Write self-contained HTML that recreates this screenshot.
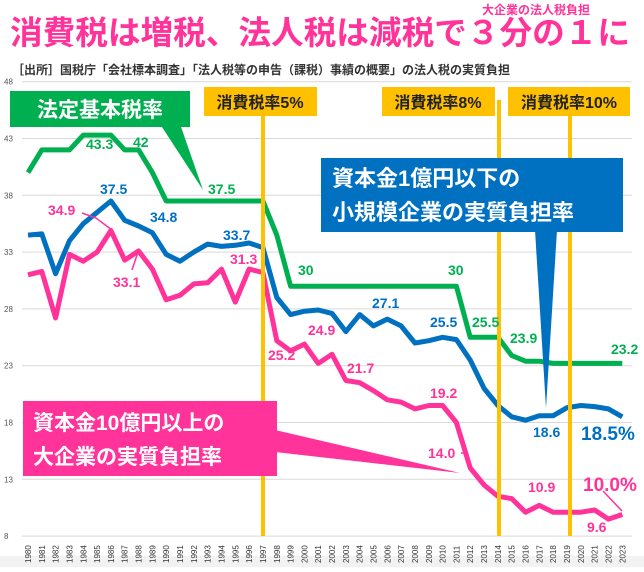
<!DOCTYPE html>
<html><head><meta charset="utf-8">
<style>
html,body{margin:0;padding:0;background:#fff;}
body{width:644px;height:567px;overflow:hidden;position:relative;font-family:"Liberation Sans","Noto Sans CJK JP",sans-serif;}
svg text{font-family:"Liberation Sans","Noto Sans CJK JP",sans-serif;}
</style></head><body>
<svg id="s" width="644" height="567" xmlns="http://www.w3.org/2000/svg">
<rect x="0" y="556" width="644" height="11" fill="#f2f2f2"/>
<text x="10" y="44" font-size="32.5" font-weight="bold" fill="#ff3399" textLength="620" lengthAdjust="spacingAndGlyphs">消費税は増税、法人税は減税で３分の１に</text>
<text x="482" y="14" font-size="12" font-weight="bold" fill="#ff3399">大企業の法人税負担</text>
<text x="12" y="74" font-size="12" font-weight="bold" fill="#333">［出所］国税庁「会社標本調査」「法人税等の申告（課税）事績の概要」の法人税の実質負担</text>
<g id="grid"></g>
<g id="lines"></g>
<rect x="261" y="100" width="4" height="436" fill="#ffc000"/>
<rect x="497" y="100" width="4" height="436" fill="#ffc000"/>
<rect x="568" y="100" width="4" height="436" fill="#ffc000"/>
<rect x="204" y="87" width="113" height="29" fill="#ffc000"/>
<text x="260" y="108" font-size="16" font-weight="bold" fill="#222" text-anchor="middle">消費税率5%</text>
<rect x="382" y="87" width="113" height="29" fill="#ffc000"/>
<text x="438" y="108" font-size="16" font-weight="bold" fill="#222" text-anchor="middle">消費税率8%</text>
<rect x="508" y="87" width="122" height="29" fill="#ffc000"/>
<text x="569" y="108" font-size="16" font-weight="bold" fill="#222" text-anchor="middle">消費税率10%</text>
<polygon points="160,124 180,124 203,190" fill="#00b050"/>
<rect x="10" y="91" width="180" height="36" fill="#00b050"/>
<text x="100" y="117" font-size="21" font-weight="bold" fill="#fff" text-anchor="middle">法定基本税率</text>
<polygon points="535,230 557,230 546,408" fill="#0070c0"/>
<rect x="321" y="158" width="302" height="74" fill="#0070c0"/>
<text x="332" y="186" font-size="22" font-weight="bold" fill="#fff">資本金1億円以下の</text>
<text x="332" y="220" font-size="22" font-weight="bold" fill="#fff">小規模企業の実質負担率</text>
<polygon points="275,430 275,452 460,473" fill="#ff3399"/>
<rect x="23" y="401" width="254" height="75" fill="#ff3399"/>
<text x="33" y="430" font-size="21" font-weight="bold" fill="#fff">資本金10億円以上の</text>
<text x="33" y="464" font-size="21" font-weight="bold" fill="#fff">大企業の実質負担率</text>
<g font-weight="bold" font-size="14">
<text x="86" y="149" fill="#00b050">43.3</text>
<text x="133" y="147" fill="#00b050">42</text>
<text x="208" y="194" fill="#00b050">37.5</text>
<text x="298" y="275" fill="#00b050">30</text>
<text x="448" y="275" fill="#00b050">30</text>
<text x="472" y="327" fill="#00b050">25.5</text>
<text x="510" y="343" fill="#00b050">23.9</text>
<text x="611" y="354" fill="#00b050">23.2</text>
<text x="100" y="194" fill="#0070c0">37.5</text>
<text x="150" y="222" fill="#0070c0">34.8</text>
<text x="223" y="240" fill="#0070c0">33.7</text>
<text x="372" y="308" fill="#0070c0">27.1</text>
<text x="430" y="327" fill="#0070c0">25.5</text>
<text x="533" y="437" fill="#0070c0">18.6</text>
<text x="581" y="440" fill="#0070c0" font-size="19">18.5%</text>
<text x="48" y="215" fill="#ff3399">34.9</text>
<text x="113" y="287" fill="#ff3399">33.1</text>
<text x="230" y="264" fill="#ff3399">31.3</text>
<text x="268" y="360" fill="#ff3399">25.2</text>
<text x="308" y="335" fill="#ff3399">24.9</text>
<text x="347" y="373" fill="#ff3399">21.7</text>
<text x="430" y="398" fill="#ff3399">19.2</text>
<text x="428" y="458" fill="#ff3399">14.0</text>
<text x="528" y="492" fill="#ff3399">10.9</text>
<text x="583" y="491" fill="#ff3399" font-size="19">10.0%</text>
<text x="587" y="532" fill="#ff3399">9.6</text>
</g>
<g stroke-width="1.5" fill="none">
<polyline points="82,213 96,218 112,230" stroke="#ff3399"/>
<polyline points="132,270 138,252" stroke="#ff3399"/>
<polyline points="461,453 467,453" stroke="#ff3399"/>
<polyline points="603,491 622,511" stroke="#ff3399"/>
</g>
</svg>
<script>
var ns="http://www.w3.org/2000/svg";
function Y(v){return 81.7+(48-v)*11.36;}
function X(i){return 28+13.82*i;}
var g=document.getElementById('grid');
[48,43,38,33,28,23,18,13,8].forEach(function(v){
 var l=document.createElementNS(ns,'line');l.setAttribute('x1',22);l.setAttribute('x2',632);
 l.setAttribute('y1',Y(v));l.setAttribute('y2',Y(v));l.setAttribute('stroke','#d9d9d9');l.setAttribute('stroke-width','1');g.appendChild(l);
 var t=document.createElementNS(ns,'text');t.setAttribute('x',4);t.setAttribute('y',Y(v)+3);t.setAttribute('font-size','8');t.setAttribute('fill','#555');t.textContent=v;g.appendChild(t);
});
for(var i=0;i<44;i++){
 var t=document.createElementNS(ns,'text');var x=X(i)+3,y=563;
 t.setAttribute('transform','translate('+x+','+y+') rotate(-90)');t.setAttribute('font-size','8');t.setAttribute('fill','#333');t.textContent=1980+i;g.appendChild(t);
}
var green=[40,42,42,42,43.3,43.3,43.3,42,42,40,37.5,37.5,37.5,37.5,37.5,37.5,37.5,37.5,34.5,30,30,30,30,30,30,30,30,30,30,30,30,30,25.5,25.5,25.5,23.9,23.4,23.4,23.2,23.2,23.2,23.2,23.2,23.2];
var blue=[34.5,34.6,31.1,34,35.5,36.5,37.5,35.8,35.3,34.7,32.8,32.2,33,33.7,33.5,33.6,33.8,33.4,29,27.5,27.8,27.9,27.6,26,27.5,26.5,27.1,26.5,25,25.2,25.5,25.3,23.5,21,19.5,18.5,18.2,18.6,18.6,19.3,19.5,19.4,19.2,18.5];
var pink=[31,31.3,27.2,32.8,32.2,33,34.9,32.3,33.1,31.5,28.8,29.2,30.2,30.3,31.5,28.6,31.5,31.2,25.2,24.3,24.9,23.2,24,21.7,21.5,20.8,20,19.8,19.2,19.5,19.5,18,14,12.5,11.5,11.3,10.1,10.7,10.1,10.1,10.1,10.3,9.5,9.9];
var L=document.getElementById('lines');
[[green,'#00b050'],[blue,'#0070c0'],[pink,'#ff3399']].forEach(function(s){
 var p=s[0].map(function(v,i){return X(i).toFixed(1)+','+Y(v).toFixed(1);}).join(' ');
 var pl=document.createElementNS(ns,'polyline');pl.setAttribute('points',p);pl.setAttribute('fill','none');
 pl.setAttribute('stroke',s[1]);pl.setAttribute('stroke-width','5');pl.setAttribute('stroke-linejoin','round');L.appendChild(pl);
});
</script>
</body></html>
